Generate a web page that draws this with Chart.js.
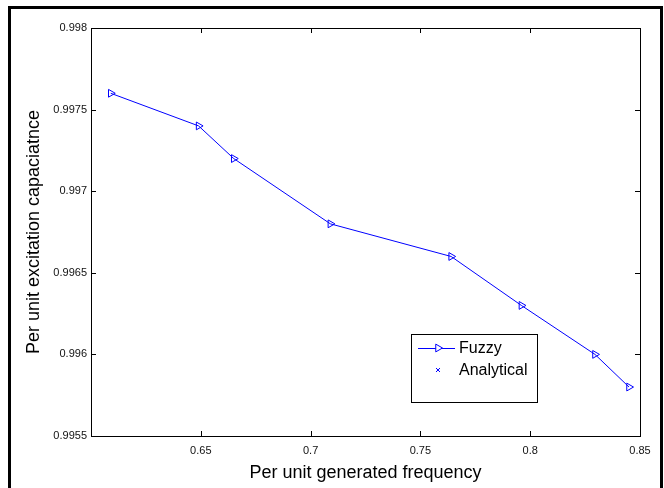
<!DOCTYPE html>
<html>
<head>
<meta charset="utf-8">
<script src="https://cdn.jsdelivr.net/npm/chart.js@4.4.0/dist/chart.umd.min.js"></script>
<style>
  body { margin: 0; background: #fff; }
  #wrap { position: relative; width: 664px; height: 488px; }
  #frame { position: absolute; left: 8px; top: 6px; width: 655px; height: 482px;
           border: 3px solid #000; border-bottom: none; box-sizing: border-box; pointer-events: none; }
</style>
</head>
<body>
<div id="wrap">
  <canvas id="chart" width="664" height="488"></canvas>
  <div id="frame"></div>
</div>
<script>
// values
var frequency = [0.609, 0.649, 0.665, 0.709, 0.764, 0.796, 0.8295, 0.845];
var fuzzyCapacitance = [0.9976, 0.9974, 0.9972, 0.9968, 0.9966, 0.9963, 0.9960, 0.9958];
var analyticalCapacitance = [];   // only shows up in the legend
var xTicks = [0.65, 0.7, 0.75, 0.8, 0.85];
var yTicks = [0.9955, 0.996, 0.9965, 0.997, 0.9975, 0.998];

var fontFamily = '"Liberation Sans", Arial, sans-serif';
var blue = '#0000ff';

function toPoints(xs, ys) {
  var pts = [];
  for (var i = 0; i < ys.length; i++) {
    pts.push({ x: xs[i], y: ys[i] });
  }
  return pts;
}

// box, inward tick marks and the legend, MATLAB style
var matlabFrame = {
  id: 'matlabFrame',
  afterDatasetsDraw: function (chart) {
    var ctx = chart.ctx,
        a = chart.chartArea,
        xs = chart.scales.x,
        ys = chart.scales.y;

    ctx.save();
    ctx.strokeStyle = '#000';
    ctx.lineWidth = 1;
    ctx.strokeRect(Math.round(a.left) + 0.5, Math.round(a.top) + 0.5,
                   Math.round(a.right - a.left), Math.round(a.bottom - a.top));

    ctx.beginPath();
    xTicks.forEach(function (v) {
      var px = Math.round(xs.getPixelForValue(v)) + 0.5;
      ctx.moveTo(px, a.bottom); ctx.lineTo(px, a.bottom - 5);
      ctx.moveTo(px, a.top);    ctx.lineTo(px, a.top + 5);
    });
    yTicks.forEach(function (v) {
      var py = Math.round(ys.getPixelForValue(v)) + 0.5;
      ctx.moveTo(a.left, py);  ctx.lineTo(a.left + 5, py);
      ctx.moveTo(a.right, py); ctx.lineTo(a.right - 5, py);
    });
    ctx.stroke();

    // legend
    var box = { x: 411, y: 334, w: 126, h: 68 };
    ctx.fillStyle = '#fff';
    ctx.fillRect(box.x, box.y, box.w, box.h);
    ctx.strokeStyle = '#000';
    ctx.strokeRect(box.x + 0.5, box.y + 0.5, box.w, box.h);

    ctx.font = '16px ' + fontFamily;
    ctx.textBaseline = 'middle';
    ctx.textAlign = 'left';
    chart.data.datasets.forEach(function (ds, i) {
      var rowY = box.y + 14 + i * 22;
      var mx = box.x + 27;
      ctx.strokeStyle = blue;
      ctx.lineWidth = 1;
      if (ds.showLine) {
        ctx.beginPath();
        ctx.moveTo(box.x + 7, rowY + 0.5);
        ctx.lineTo(box.x + 44, rowY + 0.5);
        ctx.stroke();
        Chart.helpers.drawPoint(ctx, {
          pointStyle: 'triangle', rotation: 90, radius: 4.5, borderWidth: 1
        }, mx, rowY);
        ctx.fillStyle = '#fff';
      } else {
        ctx.beginPath();
        ctx.moveTo(mx - 2, rowY - 2); ctx.lineTo(mx + 2, rowY + 2);
        ctx.moveTo(mx + 2, rowY - 2); ctx.lineTo(mx - 2, rowY + 2);
        ctx.stroke();
      }
      ctx.fillStyle = '#000';
      ctx.fillText(ds.label, box.x + 48, rowY + 1);
    });
    ctx.restore();
  }
};

var chart = new Chart(document.getElementById('chart'), {
  type: 'line',
  data: {
    datasets: [
      {
        label: 'Fuzzy',
        data: toPoints(frequency, fuzzyCapacitance),
        borderColor: blue,
        borderWidth: 1,
        backgroundColor: 'rgba(0,0,0,0)',
        pointStyle: 'triangle',
        pointRotation: 90,
        pointRadius: 4.5,
        pointBorderWidth: 1,
        pointBorderColor: blue,
        pointBackgroundColor: 'rgba(0,0,0,0)',
        showLine: true,
        tension: 0
      },
      {
        label: 'Analytical',
        data: toPoints(frequency, analyticalCapacitance),
        borderColor: blue,
        pointStyle: 'crossRot',
        pointRadius: 2,
        showLine: false
      }
    ]
  },
  options: {
    responsive: false,
    devicePixelRatio: 1,
    animation: false,
    layout: { padding: { top: 28, right: 24, left: 0, bottom: 0 } },
    plugins: {
      legend: { display: false },
      tooltip: { enabled: false }
    },
    scales: {
      x: {
        type: 'linear',
        min: 0.6,
        max: 0.85,
        grid: { display: false, drawTicks: false },
        border: { display: false },
        afterBuildTicks: function (scale) {
          scale.ticks = xTicks.map(function (v) { return { value: v }; });
        },
        afterFit: function (scale) { scale.height = 52; },
        ticks: {
          padding: 8,
          color: '#111',
          font: { family: fontFamily, size: 11 },
          maxRotation: 0,
          callback: function (v) { return String(+v.toFixed(2)); }
        },
        title: {
          display: true,
          text: 'Per unit generated frequency',
          color: '#000',
          font: { family: fontFamily, size: 18 },
          padding: { top: 0, bottom: 4 }
        }
      },
      y: {
        type: 'linear',
        min: 0.9955,
        max: 0.998,
        grid: { display: false, drawTicks: false },
        border: { display: false },
        afterBuildTicks: function (scale) {
          scale.ticks = yTicks.map(function (v) { return { value: v }; });
        },
        afterFit: function (scale) { scale.width = 91; },
        ticks: {
          padding: 4,
          color: '#111',
          font: { family: fontFamily, size: 11 },
          callback: function (v) { return String(+v.toFixed(4)); }
        },
        title: {
          display: true,
          text: 'Per unit excitation capaciatnce',
          color: '#000',
          font: { family: fontFamily, size: 18 },
          padding: { top: 23, bottom: 0 }
        }
      }
    }
  },
  plugins: [matlabFrame]
});
</script>
</body>
</html>
